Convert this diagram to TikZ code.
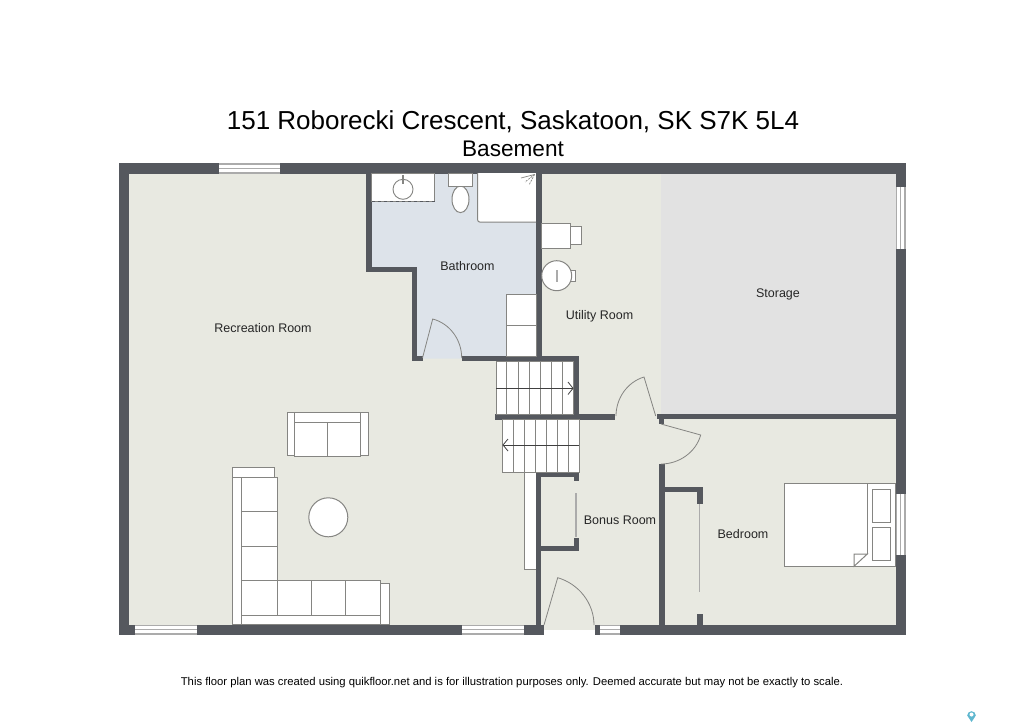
\documentclass[tikz,border=0pt]{standalone}
\usepackage{fontspec}
\setmainfont{Liberation Sans}
\tikzset{
	wall/.style={fill=wallgray, draw=none},
	fixture/.style={fill=white, draw=linegray, line width=1pt},
	swing/.style={draw=linegray, line width=0.8pt},
	slider/.style={draw=slidergray, line width=1.7pt},
	roomlabel/.style={font=\fontsize{12.5}{14}\selectfont, text=black!85, inner sep=0pt}
}
\definecolor{wallgray}{HTML}{55585E}
\definecolor{linegray}{HTML}{858582}
\definecolor{slidergray}{HTML}{ABABAB}
\definecolor{floorgray}{HTML}{E8E9E1}
\definecolor{bathblue}{HTML}{DDE3EA}
\definecolor{storegray}{HTML}{E2E2E2}
\definecolor{pinblue}{HTML}{5FB7CF}
% window across a wall: \windowH{x1}{x2}{y1}{y2}, \windowV the same upright
\newcommand{\windowH}[4]{
	\fill [slidergray] (#1,#3) rectangle (#2,#4);
	\fill [white] (#1,#3+1.6) rectangle (#2,#3*0.5+#4*0.5-0.6);
	\fill [white] (#1,#3*0.5+#4*0.5+0.6) rectangle (#2,#4-1.6);
}
\newcommand{\windowV}[4]{
	\fill [slidergray] (#1,#3) rectangle (#2,#4);
	\fill [white] (#1+1.2,#3) rectangle (#1*0.5+#2*0.5-0.5,#4);
	\fill [white] (#1*0.5+#2*0.5+0.5,#3) rectangle (#2-1.2,#4);
}
\begin{document}
\begin{tikzpicture}[x=1pt, y=-1pt]
		\useasboundingbox (0,0) rectangle (1024,723);
		
		%floors
		\fill [floorgray] (129,173) rectangle (895.5,624.5);
		\fill [floorgray] (544,624) rectangle (594.5,630);
		\fill [storegray] (661,173) rectangle (895.5,414.5);
		\fill [bathblue] (371,173) -- (536.5,173) -- (536.5,356.5) -- (462,356.5) -- (462,358.5) -- (416,358.5) -- (416,270) -- (371,270) -- cycle;
		
		%outer walls
		\fill [wall] (118.5,163) rectangle (906,173.5);
		\fill [wall] (118.5,163) rectangle (129,635);
		\fill [wall] (895.5,163) rectangle (906,635);
		\fill [wall] (118.5,624.5) rectangle (544,635);
		\fill [wall] (594.5,624.5) rectangle (906,635);
		
		%windows
		\windowH{218.5}{280}{163}{173.5}
		\windowH{135}{197}{624.5}{635}
		\windowH{462}{524}{624.5}{635}
		\windowH{600}{620}{624.5}{635}
		\windowV{895.5}{905.5}{187}{249}
		\windowV{895.5}{905.5}{493.5}{555}
		
		%bathroom walls
		\fill [wall] (366,173) rectangle (371.5,271.5);
		\fill [wall] (366,266.5) rectangle (416.5,271.5);
		\fill [wall] (412,266.5) rectangle (416.5,361);
		\fill [wall] (412,356) rectangle (423,361);
		\fill [wall] (462,356) rectangle (578.5,361);
		\fill [wall] (536,173) rectangle (541.5,356);
		
		%stair walls and the wall to storage
		\fill [wall] (573.5,356) rectangle (578.5,419.5);
		\fill [wall] (494.5,414) rectangle (615,419.5);
		\fill [wall] (656.5,414) rectangle (895.5,419);
		\fill [wall] (659,419) rectangle (664,424);
		
		%bench
		\draw [fixture] (524,472) rectangle (536.5,569.5);
		
		%bonus room walls
		\fill [wall] (536,472) rectangle (579,477);
		\fill [wall] (536,472) rectangle (541,624.5);
		\fill [wall] (573.5,472) rectangle (578.5,481);
		\fill [wall] (573.5,537.5) rectangle (578.5,551);
		\fill [wall] (536,546) rectangle (578.5,551);
		\draw [slider] (576,493) -- (576,537);
		
		%bedroom walls
		\fill [wall] (659,464) rectangle (664.5,624.5);
		\fill [wall] (664,486.5) rectangle (702.5,491.5);
		\fill [wall] (697,486.5) rectangle (702.5,504);
		\fill [wall] (697,614) rectangle (702.5,624.5);
		\draw [slider] (699.5,504) -- (699.5,592);
		
		%doors
		\draw [swing] (422.5,358) -- (432.7,319) .. controls (450.1,323.6) and (461.7,340) .. (461.7,358);
		\draw [swing] (655.7,416) -- (644,377) .. controls (627.1,382.1) and (616,398.4) .. (616,416);
		\draw [swing] (661,424) -- (700.7,435) .. controls (695.9,452.3) and (679,464) .. (661,464);
		\draw [swing] (544,625) -- (557.7,577.7) .. controls (578.7,583.8) and (594,603) .. (594,625);
		
		%stairs
		\draw [fixture] (496,361) rectangle (573.5,414);
			\foreach \treadX in {506.7,518,529.3,540.3,551.3,562.3}
				\draw [linegray, line width=0.9pt] (\treadX,361) -- (\treadX,414);
			\draw [black!75, line width=0.8pt] (496,388.3) -- (573,388.3);
			\draw [black!75, line width=0.8pt] (568,382) -- (573,388.3) -- (568,394.5);
		\draw [fixture] (502.3,419.5) rectangle (579,472);
			\foreach \treadX in {513.3,524,535,546,557.3,568.3}
				\draw [linegray, line width=0.9pt] (\treadX,419.5) -- (\treadX,472);
			\draw [black!75, line width=0.8pt] (503,445) -- (579,445);
			\draw [black!75, line width=0.8pt] (508,439) -- (503,445) -- (508,451);
		
		%vanity
		\draw [fixture] (371.5,173) rectangle (434.7,201.7);
			\draw [wallgray, line width=0.9pt, dashed] (371.5,201.7) -- (434.7,201.7);
			\draw [linegray, line width=0.9pt] (403,189.3) circle (10);
			\fill [linegray] (402,175) rectangle (404,184);
		
		%toilet
		\draw [fixture] (460.5,199.3) ellipse (8.5 and 13.3);
		\draw [fixture] (448.7,173) rectangle (472.7,186);
		
		%shower
		\fill [white] (477.7,173.3) rectangle (536,222);
		\draw [linegray, line width=1pt, rounded corners=2pt] (477.7,173) -- (477.7,222) -- (536,222);
			\draw [linegray, line width=0.7pt] (534.5,174.5) -- (521,178);
			\draw [linegray, line width=0.7pt, dash pattern=on 2pt off 1pt] (534.5,174.5) -- (525,182);
			\draw [linegray, line width=0.7pt, dash pattern=on 2pt off 1pt] (534.5,174.5) -- (529,185);
		
		%cabinets
		\draw [fixture] (506,294.7) rectangle (536,325);
		\draw [fixture] (506,325) rectangle (536,356);
		
		%washer and water heater
		\draw [fixture] (570,226) rectangle (581,244.7);
		\draw [fixture] (541.5,223.3) rectangle (570,248.3);
		\draw [fixture] (570,270.7) rectangle (575,281.7);
		\draw [fixture] (556.7,275.7) circle (15);
		\fill [slidergray] (555.5,270) rectangle (558,281.7);
		
		%small sofa
		\draw [fixture] (287.7,412.7) rectangle (294.7,455);
		\draw [fixture] (360.7,412.7) rectangle (368,455);
		\draw [fixture] (294.7,412.7) rectangle (360.7,422.3);
		\draw [fixture] (294.7,422.3) rectangle (327.7,456.7);
		\draw [fixture] (327.7,422.3) rectangle (360.7,456.7);
		
		%corner sofa
		\draw [fixture] (232.7,467.7) rectangle (274.3,477);
		\draw [fixture] (232.7,477) rectangle (241.7,624.5);
		\draw [fixture] (241.7,615) rectangle (380,624.5);
		\draw [fixture] (380,583) rectangle (389,624.5);
		\foreach \seatY/\seatEnd in {477/511,511/546,546/580.3,580.3/615}
			\draw [fixture] (241.7,\seatY) rectangle (277,\seatEnd);
		\foreach \seatX/\seatEnd in {277/311.3,311.3/345.7,345.7/380}
			\draw [fixture] (\seatX,580.3) rectangle (\seatEnd,615);
		
		%table
		\draw [fixture] (328.3,517.3) circle (19.5);
		
		%bed
		\draw [fixture] (784,483.3) rectangle (895.5,566.3);
			\draw [linegray, line width=1pt] (867.3,483.3) -- (867.3,554);
			\draw [fixture] (872,489.3) rectangle (890.7,522);
			\draw [fixture] (872,527.3) rectangle (890.7,560);
			\draw [fixture] (854,566.3) -- (854,554) -- (867.3,554) -- cycle;
		
		%pin
		\fill [pinblue] (971.5,722) -- (967.2,715.5) arc (180:360:4.3) -- cycle;
		\fill [white] (971.5,714.5) circle (2);
		
		%texts
		\node [font=\fontsize{26}{30}\selectfont, inner sep=0pt] (title) at (513,122) {151 Roborecki Crescent, Saskatoon, SK S7K 5L4};
		\node [font=\fontsize{22.6}{26}\selectfont, inner sep=0pt] (floorname) at (513,148.5) {Basement};
		\node [roomlabel] (recreation) at (263,328.3) {Recreation Room};
		\node [roomlabel] (bathroom) at (467.5,266.3) {Bathroom};
		\node [roomlabel] (utility) at (599.5,316) {Utility Room};
		\node [roomlabel] (storage) at (778,294.5) {Storage};
		\node [roomlabel] (bonus) at (620,520.3) {Bonus Room};
		\node [roomlabel] (bedroom) at (743,533.8) {Bedroom};
		\node [font=\fontsize{11.28}{14}\selectfont, inner sep=0pt] (footer) at (512,683) {This floor plan was created using quikfloor.net and is for illustration purposes only. Deemed accurate but may not be exactly to scale.};
	\end{tikzpicture}
\end{document}
